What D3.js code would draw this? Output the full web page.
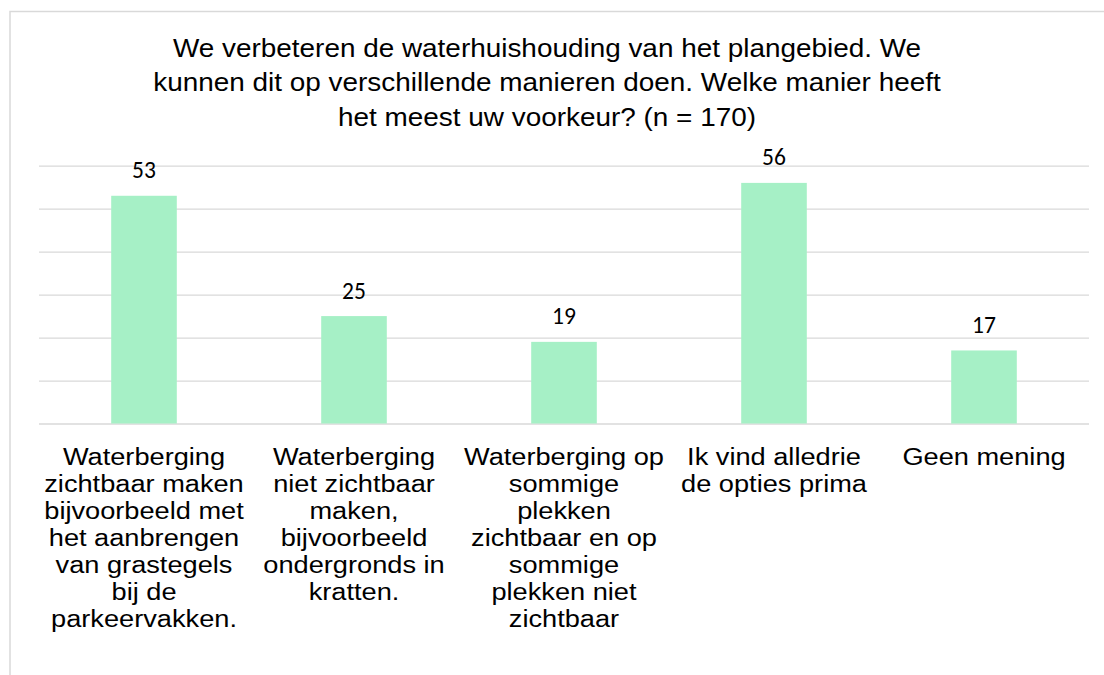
<!DOCTYPE html>
<html>
<head>
<meta charset="utf-8">
<script src="https://cdn.jsdelivr.net/npm/d3@7"></script>
<style>
  body { margin: 0; background: #fff; }
  svg { display: block; }
</style>
</head>
<body>
<svg width="1104" height="675"></svg>
<script>
// data
var categories = [
    "Waterberging zichtbaar maken bijvoorbeeld met het aanbrengen van grastegels bij de parkeervakken.",
    "Waterberging niet zichtbaar maken, bijvoorbeeld ondergronds in kratten.",
    "Waterberging op sommige plekken zichtbaar en op sommige plekken niet zichtbaar",
    "Ik vind alledrie de opties prima",
    "Geen mening"
];
var values = [53, 25, 19, 56, 17];
var gridTicks = [0, 10, 20, 30, 40, 50, 60];
var titleLines = [
    "We verbeteren de waterhuishouding van het plangebied. We",
    "kunnen dit op verschillende manieren doen. Welke manier heeft",
    "het meest uw voorkeur? (n = 170)"
];

var svg = d3.select("svg");

// chart frame (only top and left edges are inside the window)
svg.append("path")
    .attr("d", "M10,675V11.5H1104")
    .attr("fill", "none")
    .attr("stroke", "#d9d9d9")
    .attr("stroke-width", 1.5);

var plot = {left: 39, right: 1089, top: 165.7, bottom: 423.5};

var x = d3.scaleBand()
    .domain(categories)
    .range([plot.left, plot.right])
    .paddingInner(0.6876)
    .paddingOuter(0.3438);

var y = d3.scaleLinear()
    .domain([0, 60])
    .range([plot.bottom, plot.top]);

// gridlines
var grid = svg.append("g")
    .attr("transform", "translate(" + plot.left + ",0)")
    .call(d3.axisLeft(y).tickValues(gridTicks).tickSize(-(plot.right - plot.left)).tickFormat(""));
grid.select(".domain").remove();
grid.selectAll("line").attr("stroke", "#d9d9d9").attr("stroke-width", 1.3);

// bars
svg.selectAll("rect.bar")
    .data(values)
    .enter()
    .append("rect")
    .attr("class", "bar")
    .attr("x", function(d, i) { return x(categories[i]); })
    .attr("y", function(d) { return y(d); })
    .attr("width", x.bandwidth())
    .attr("height", function(d) { return y(0) - y(d); })
    .attr("fill", "#a6f0c6");

// value labels (Calibri look-alike)
svg.selectAll("text.val")
    .data(values)
    .enter()
    .append("text")
    .attr("class", "val")
    .attr("x", function(d, i) { return x(categories[i]) + x.bandwidth() / 2; })
    .attr("y", function(d) { return y(d) - 17.5; })
    .attr("text-anchor", "middle")
    .style("font-family", "Carlito, Lato, sans-serif")
    .style("font-size", "23.5px")
    .attr("fill", "#000")
    .text(function(d) { return d; });

// category axis with wrapped labels
var xAxis = svg.append("g")
    .attr("transform", "translate(0," + plot.bottom + ")")
    .call(d3.axisBottom(x).tickSize(0));
xAxis.select(".domain").remove();
xAxis.selectAll("text")
    .style("font-family", "'Liberation Sans', sans-serif")
    .style("font-size", "24.5px")
    .attr("fill", "#000")
    .attr("transform", "scale(1.11,1)")
    .call(wrap, 186);

function wrap(texts, width) {
    texts.each(function() {
        var text = d3.select(this),
            words = text.text().split(/\s+/),
            line = [],
            lineNo = 0,
            tspan = text.text(null).append("tspan").attr("x", 0).attr("y", 41.5);
        words.forEach(function(w) {
            line.push(w);
            tspan.text(line.join(" "));
            if (tspan.node().getComputedTextLength() > width && line.length > 1) {
                line.pop();
                tspan.text(line.join(" "));
                line = [w];
                lineNo++;
                tspan = text.append("tspan").attr("x", 0).attr("y", 41.5 + lineNo * 27).text(w);
            }
        });
        text.attr("dy", null);
    });
}

// title
svg.append("g")
    .attr("transform", "translate(547,0)")
    .selectAll("text")
    .data(titleLines)
    .enter()
    .append("text")
    .attr("transform", function(d, i) { return "translate(0," + (56.7 + i * 34.5) + ") scale(1.095,1)"; })
    .attr("text-anchor", "middle")
    .style("font-family", "'Liberation Sans', sans-serif")
    .style("font-size", "25.5px")
    .attr("fill", "#000")
    .text(function(d) { return d; });
</script>
</body>
</html>
